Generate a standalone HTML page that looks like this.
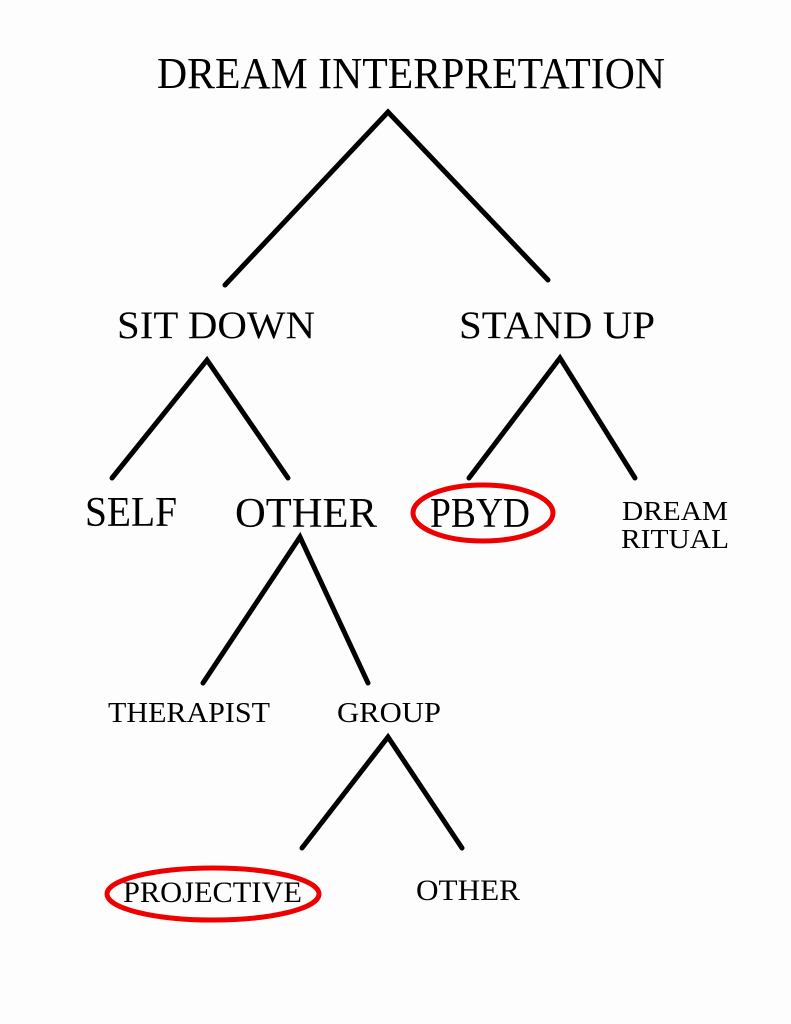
<!DOCTYPE html>
<html><head><meta charset="utf-8"><style>
html,body{margin:0;padding:0;background:#fdfdfd;}
svg{display:block;}
text{font-family:"Liberation Serif",serif;fill:#000;}
</style></head><body>
<svg width="791" height="1024" viewBox="0 0 791 1024" xmlns="http://www.w3.org/2000/svg">
<rect width="791" height="1024" fill="#fdfdfd"/>
<g stroke="#000" stroke-width="5" stroke-linecap="round" fill="none">
<polyline points="225,285 388,112 548,280"/>
<polyline points="112,478 207,360 288,478"/>
<polyline points="469,478 560,358 635,478"/>
<polyline points="203,683 300,537 368,683"/>
<polyline points="302,848 388,737 462,848"/>
</g>
<g stroke="#e00" stroke-width="5" fill="none">
<ellipse cx="483" cy="513" rx="70" ry="28"/>
<ellipse cx="213" cy="894" rx="106" ry="26"/>
</g>
<text x="157" y="88" font-size="44" textLength="508" lengthAdjust="spacingAndGlyphs">DREAM INTERPRETATION</text>
<text x="117" y="338" font-size="39" textLength="198" lengthAdjust="spacingAndGlyphs">SIT DOWN</text>
<text x="459" y="338" font-size="39" textLength="196" lengthAdjust="spacingAndGlyphs">STAND UP</text>
<text x="85" y="526" font-size="42" textLength="92" lengthAdjust="spacingAndGlyphs">SELF</text>
<text x="235" y="527" font-size="42" textLength="142" lengthAdjust="spacingAndGlyphs">OTHER</text>
<text x="430" y="527" font-size="42" textLength="100" lengthAdjust="spacingAndGlyphs">PBYD</text>
<text x="622" y="520" font-size="27" textLength="106" lengthAdjust="spacingAndGlyphs">DREAM</text>
<text x="621" y="548" font-size="27" textLength="108" lengthAdjust="spacingAndGlyphs">RITUAL</text>
<text x="108" y="722" font-size="29" textLength="162" lengthAdjust="spacingAndGlyphs">THERAPIST</text>
<text x="337" y="722" font-size="29" textLength="104" lengthAdjust="spacingAndGlyphs">GROUP</text>
<text x="123" y="902" font-size="30" textLength="179" lengthAdjust="spacingAndGlyphs">PROJECTIVE</text>
<text x="416" y="900" font-size="30" textLength="104" lengthAdjust="spacingAndGlyphs">OTHER</text>
</svg>
</body></html>
